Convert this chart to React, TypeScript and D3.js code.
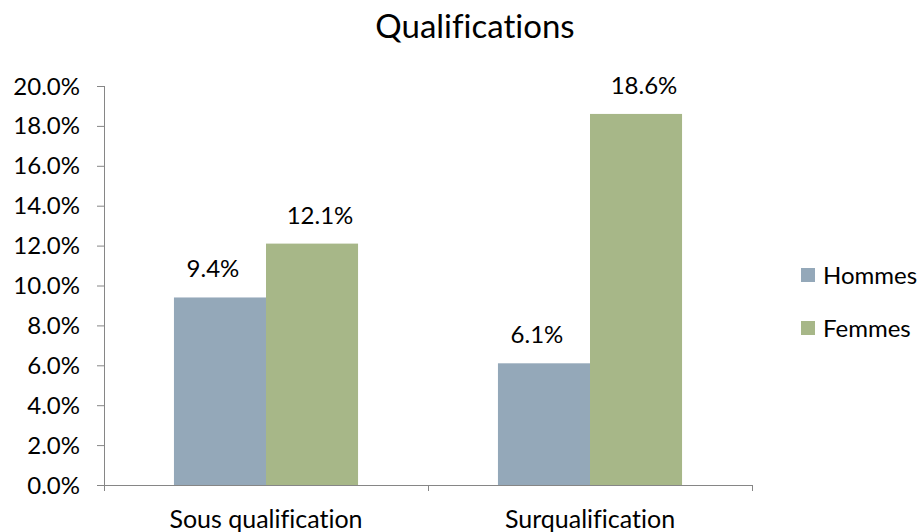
import React from "react";
import * as d3 from "d3";

const categories = ["Sous qualification", "Surqualification"];
const seriesNames = ["Hommes", "Femmes"];
const hommes = [9.4, 6.1];
const femmes = [12.1, 18.6];
const yTicks = [0, 2, 4, 6, 8, 10, 12, 14, 16, 18, 20];
const colors = ["#94A8B9", "#A7B788"];

const W = 922;
const H = 532;
const FONT = "Lato, 'Open Sans', sans-serif";

// value labels sit slightly off-centre, toward the outside of each pair
const labelShift = [-7, 8];

export default function App() {
  const left = 104;
  const right = 752;
  const top = 86;
  const bottom = 485;

  const x = d3.scaleBand<string>().domain(categories).range([left, right]);
  const y = d3.scaleLinear().domain([0, 20]).range([bottom, top]);
  const inner = d3
    .scaleBand<string>()
    .domain(seriesNames)
    .range([0, x.bandwidth()])
    .paddingOuter(0.76)
    .paddingInner(0);

  const values = [hommes, femmes];

  return (
    <svg
      width={W}
      height={H}
      style={{
        position: "absolute",
        left: 0,
        top: 0,
        background: "#fff",
        fontVariantLigatures: "none",
      }}
      fontFamily={FONT}
    >
      <text x={475} y={38} textAnchor="middle" fontSize={33} fill="#000">
        Qualifications
      </text>

      {/* bars */}
      {seriesNames.map((s, si) =>
        categories.map((c, ci) => {
          const v = values[si][ci];
          const bx = (x(c) ?? 0) + (inner(s) ?? 0);
          return (
            <g key={s + c}>
              <rect
                x={bx}
                y={y(v)}
                width={inner.bandwidth()}
                height={bottom - y(v)}
                fill={colors[si]}
              />
              <text
                x={bx + inner.bandwidth() / 2 + labelShift[si]}
                y={y(v) - 20}
                textAnchor="middle"
                fontSize={24}
                fill="#000"
              >
                {v.toFixed(1)}%
              </text>
            </g>
          );
        })
      )}

      {/* y axis */}
      <line x1={left + 0.5} x2={left + 0.5} y1={top} y2={bottom} stroke="#868686" />
      {yTicks.map((t) => (
        <g key={t}>
          <line x1={97} x2={left} y1={y(t) + 0.5} y2={y(t) + 0.5} stroke="#868686" />
          <text x={80} y={y(t) + 8.5} textAnchor="end" fontSize={24} fill="#000">
            {t.toFixed(1)}%
          </text>
        </g>
      ))}

      {/* x axis */}
      <line x1={left} x2={right} y1={bottom + 0.5} y2={bottom + 0.5} stroke="#868686" />
      {[left, ...categories.map((c) => (x(c) ?? 0) + x.bandwidth())].map((px, i) => (
        <line key={i} x1={px + 0.5} x2={px + 0.5} y1={bottom} y2={bottom + 6} stroke="#868686" />
      ))}
      {categories.map((c) => (
        <text
          key={c}
          x={(x(c) ?? 0) + x.bandwidth() / 2}
          y={528}
          textAnchor="middle"
          fontSize={25}
          fill="#000"
        >
          {c}
        </text>
      ))}

      {/* legend */}
      {seriesNames.map((s, i) => (
        <g key={s}>
          <rect x={801} y={268 + i * 53} width={14} height={14} fill={colors[i]} />
          <text x={823} y={284 + i * 53} fontSize={24} fill="#000">
            {s}
          </text>
        </g>
      ))}
    </svg>
  );
}
